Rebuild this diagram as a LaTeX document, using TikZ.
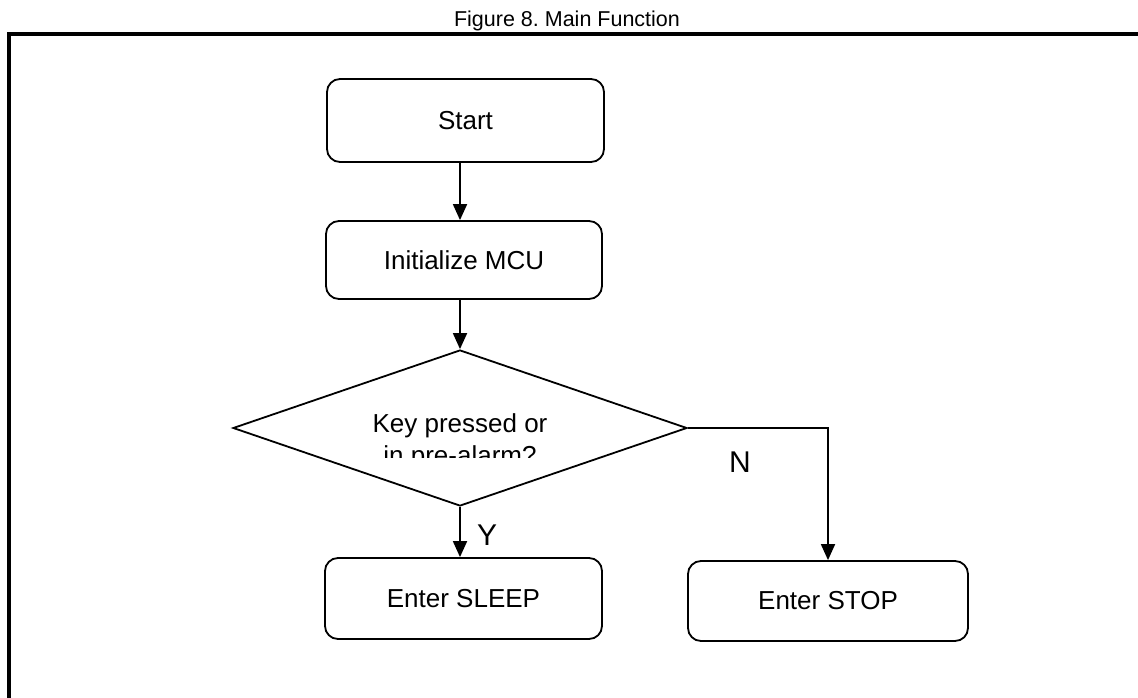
\documentclass[tikz,border=0pt]{standalone}
\usepackage{fontspec}
\setmainfont{Liberation Sans}
\usetikzlibrary{shapes.geometric,arrows.meta}
\frenchspacing
\tikzset{
  box/.style={draw, line width=1.8pt, rounded corners=13pt, inner sep=0pt,
    font=\fontsize{26}{30}\selectfont},
  conn/.style={line width=1.8pt, -{Triangle[width=14pt,length=16pt]}},
  lbl/.style={inner sep=0pt, font=\fontsize{30}{34}\selectfont},
  txt/.style={inner sep=0pt, anchor=base, font=\fontsize{26}{30}\selectfont}
}
\begin{document}
\begin{tikzpicture}[x=1pt,y=-1pt]
\useasboundingbox (0,0) rectangle (1138,698);
% frame
\coordinate (fbl) at (9,698);
\coordinate (ftl) at (9,34.5);
\coordinate (ftr) at (1138,34.5);
\draw[line width=4pt, line join=miter] (fbl) -- (ftl) -- (ftr);
% title
\node[inner sep=0pt, anchor=base, font=\fontsize{21.5}{25}\selectfont] (title) at (567,27) {Figure 8. Main Function};
% boxes
\node[box, minimum width=277pt, minimum height=83pt] (start) at (465.5,120.5) {Start};
\node[box, minimum width=276pt, minimum height=78pt] (init) at (464,260) {Initialize MCU};
\node[draw, diamond, line width=1.8pt, inner sep=0pt, minimum width=454pt, minimum height=156pt] (dec) at (460,428) {};
\node[box, minimum width=277pt, minimum height=81pt] (sleep) at (463.5,598.5) {Enter SLEEP};
\node[box, minimum width=280pt, minimum height=80pt] (stop) at (828,601) {Enter STOP};
% diamond text (clipped)
\begin{scope}
\clip (233,395) rectangle (687,457);
\node[txt] (q1) at (460,432) {Key pressed or};
\node[txt] (q2) at (460,464) {in pre-alarm?};
\end{scope}
% connectors
\draw[conn] (start.south -| dec.north) -- (init.north -| dec.north);
\draw[conn] (init.south -| dec.north) -- (dec.north);
\draw[conn] (dec.south) -- (sleep.north -| dec.south);
\draw[conn] (dec.east) -- (dec.east -| stop.north) -- (stop.north);
% labels
\node[lbl] (ylab) at (487,535) {Y};
\node[lbl] (nlab) at (740,462) {N};
\end{tikzpicture}
\end{document}
